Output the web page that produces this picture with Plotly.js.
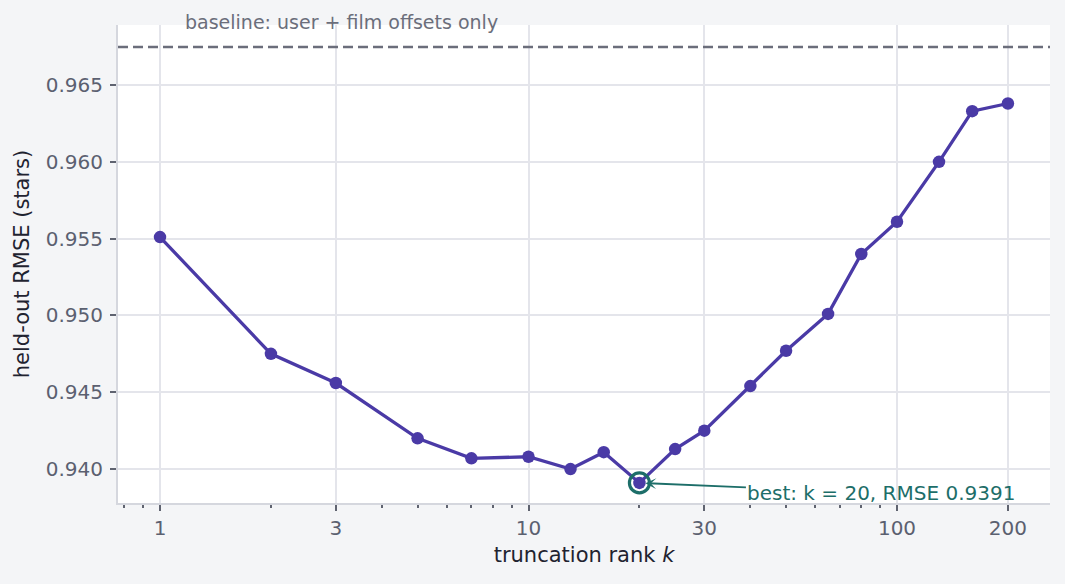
<!DOCTYPE html>
<html>
<head>
<meta charset="utf-8">
<script src="https://cdn.plot.ly/plotly-3.0.1.min.js"></script>
<style>
  html, body { margin: 0; padding: 0; background: #f4f5f7; }
  #chart { width: 1065px; height: 584px; }
</style>
</head>
<body>
<div id="chart"></div>
<script>
// truncation rank sweep
const ranks = [1, 2, 3, 5, 7, 10, 13, 16, 20, 25, 30, 40, 50, 65, 80, 100, 130, 160, 200];
const rmse = [0.9551, 0.9475, 0.9456, 0.9420, 0.9407, 0.9408, 0.9400, 0.9411, 0.9391, 0.9413,
              0.9425, 0.9454, 0.9477, 0.9501, 0.9540, 0.9561, 0.9600, 0.9633, 0.9638];
const baselineRmse = 0.96747;
const bestK = 20;
const bestRmse = 0.9391;

const majorTicks = [1, 3, 10, 30, 100, 200];
const minorTicks = [0.8, 0.9, 2, 4, 5, 6, 7, 8, 9, 20, 40, 50, 60, 70, 80, 90];
const yTicks = [0.940, 0.945, 0.950, 0.955, 0.960, 0.965];

const FONT = 'DejaVu Sans';
const purple = '#4a3aa6';
const teal = '#1d6e69';
const gray = '#6b6e7b';

const curve = {
  x: ranks, y: rmse, mode: 'lines+markers',
  line: { color: purple, width: 3.3 },
  marker: { color: purple, size: 12.5 },
  hoverinfo: 'x+y', showlegend: false
};

const best = {
  x: [bestK], y: [bestRmse], mode: 'markers',
  marker: { size: 20, color: 'rgba(0,0,0,0)', line: { color: teal, width: 3.2 } },
  hoverinfo: 'skip', showlegend: false
};

const layout = {
  width: 1065, height: 584,
  margin: { l: 118, r: 15, t: 25, b: 81 },
  paper_bgcolor: '#f4f5f7',
  plot_bgcolor: '#ffffff',
  font: { family: FONT, size: 20, color: '#5b6070' },
  xaxis: {
    type: 'log',
    range: [-0.114, 2.4152],
    tickmode: 'array', tickvals: majorTicks, ticktext: majorTicks.map(String),
    ticks: 'outside', ticklen: 6, tickcolor: '#5f6370', tickwidth: 1.5,
    minor: { tickmode: 'array', tickvals: minorTicks, ticks: 'outside', ticklen: 3,
             tickcolor: '#5f6370', showgrid: false },
    showgrid: true, gridcolor: '#e4e5eb', gridwidth: 1.5,
    showline: true, linecolor: '#d5d7de', linewidth: 2,
    zeroline: false,
    title: { text: 'truncation rank <i>k</i>', font: { size: 21, color: '#1f2330' }, standoff: 8 }
  },
  yaxis: {
    range: [0.93779, 0.96891],
    tickmode: 'array', tickvals: yTicks, ticktext: yTicks.map(v => v.toFixed(3)),
    ticks: 'outside', ticklen: 6, tickcolor: '#5f6370', tickwidth: 1.5,
    ticklabelstandoff: 3,
    showgrid: true, gridcolor: '#e4e5eb', gridwidth: 1.5,
    showline: true, linecolor: '#d5d7de', linewidth: 2,
    zeroline: false,
    title: { text: 'held-out RMSE (stars)', font: { size: 21, color: '#1f2330' }, standoff: 10 }
  },
  shapes: [{
    type: 'line', xref: 'paper', x0: 0, x1: 1, yref: 'y', y0: baselineRmse, y1: baselineRmse,
    line: { color: gray, width: 2.5, dash: '10px,5px' }
  }],
  annotations: [
    {
      xref: 'x', yref: 'y', x: Math.log10(1.155), y: baselineRmse,
      xanchor: 'left', yanchor: 'bottom', yshift: 12,
      text: 'baseline: user + film offsets only', showarrow: false,
      font: { family: FONT, size: 19, color: gray }
    },
    {
      xref: 'x', yref: 'y', x: Math.log10(bestK), y: bestRmse,
      text: 'best: k = 20, RMSE 0.9391', showarrow: true,
      axref: 'pixel', ayref: 'pixel', ax: 242, ay: 10,
      arrowhead: 3, arrowsize: 1, arrowwidth: 1.8, arrowcolor: teal, standoff: 6,
      font: { family: FONT, size: 20, color: teal }
    }
  ]
};

Plotly.newPlot('chart', [curve, best], layout, { displayModeBar: false, responsive: false });
</script>
</body>
</html>
